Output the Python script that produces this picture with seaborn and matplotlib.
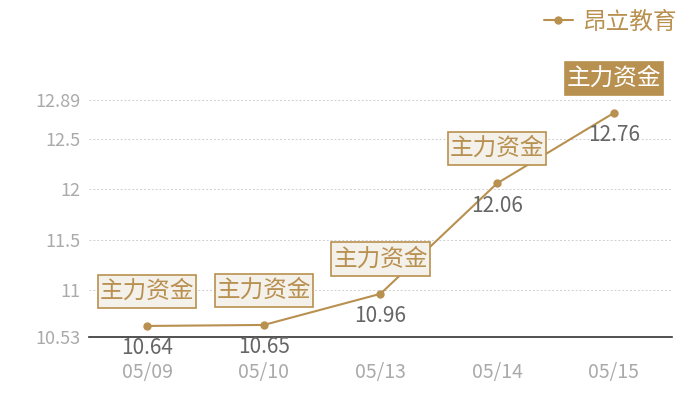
import pandas as pd
import matplotlib
matplotlib.use('Agg')
import matplotlib.pyplot as plt
from matplotlib.path import Path
import seaborn as sns

dates = ['05/09', '05/10', '05/13', '05/14', '05/15']
prices = [10.64, 10.65, 10.96, 12.06, 12.76]
tags = ['主力资金', '主力资金', '主力资金', '主力资金', '主力资金']
y_ticks = [10.53, 11, 11.5, 12, 12.5, 12.89]
y_labels = ['10.53', '11', '11.5', '12', '12.5', '12.89']
series_name = '昂立教育'

TAN = '#b8904f'
BOX_FILL = '#f4f0ea'

sns.set_style('white')
plt.rcParams['font.family'] = ['Noto Sans CJK SC', 'DejaVu Sans']


def tag_box(x0, y0, width, height, mutation_size):
    # tight on the sides, a bit taller than the text
    px = 0.08 * mutation_size
    py = 0.22 * mutation_size
    x0, y0 = x0 - px, y0 - py
    x1, y1 = x0 + width + 2 * px, y0 + height + 2 * py
    return Path([(x0, y0), (x1, y0), (x1, y1), (x0, y1), (x0, y0)], closed=True)


df = pd.DataFrame({'date': dates, 'price': prices, 'name': series_name})
df['x'] = range(len(df))

fig = plt.figure(figsize=(7, 4), dpi=100)
ax = fig.add_axes([0.127, 0.1575, 0.833, 0.5925])

sns.lineplot(data=df, x='x', y='price', hue='name', palette=[TAN],
             marker='o', markersize=6, markeredgewidth=0, linewidth=1.5, ax=ax)

ax.set_xlim(-0.5, len(dates) - 0.5)
ax.set_ylim(y_ticks[0], y_ticks[-1])
ax.set_yticks(y_ticks)
ax.set_yticklabels(y_labels)
ax.set_xticks(df['x'])
ax.set_xticklabels(dates)
ax.tick_params(axis='y', length=0, labelsize=13, labelcolor='#aaaaaa', pad=6)
ax.tick_params(axis='x', length=0, labelsize=14, labelcolor='#aaaaaa', pad=18)
ax.set_xlabel('')
ax.set_ylabel('')

# dashed gridlines, solid bottom axis
for y in y_ticks[1:]:
    ax.axhline(y, color='#cfcfcf', linestyle=(0, (2, 2)), linewidth=0.7, zorder=0)
for s in ['top', 'right', 'left']:
    ax.spines[s].set_visible(False)
ax.spines['bottom'].set_color('#333333')
ax.spines['bottom'].set_linewidth(1.2)

# value labels under points and tag boxes above
for i, (v, t) in enumerate(zip(prices, tags)):
    ax.annotate(f'{v:.2f}', (i, v), xytext=(0, -16), textcoords='offset points',
                ha='center', va='center', fontsize=15, color='#666666')
    last = i == len(prices) - 1
    ax.annotate(t, (i, v), xytext=(0, 25), textcoords='offset points',
                ha='center', va='center', fontsize=17,
                color='white' if last else TAN, zorder=5, annotation_clip=False,
                bbox=dict(boxstyle=tag_box,
                          facecolor=TAN if last else BOX_FILL,
                          edgecolor=TAN, linewidth=1.2))

ax.legend(loc='upper right', bbox_to_anchor=(0.99, 1.015), bbox_transform=fig.transFigure,
          frameon=False, fontsize=17, labelcolor=TAN, handlelength=1.2,
          handletextpad=0.4, borderpad=0.2)

fig.savefig('out.png', dpi=100)
